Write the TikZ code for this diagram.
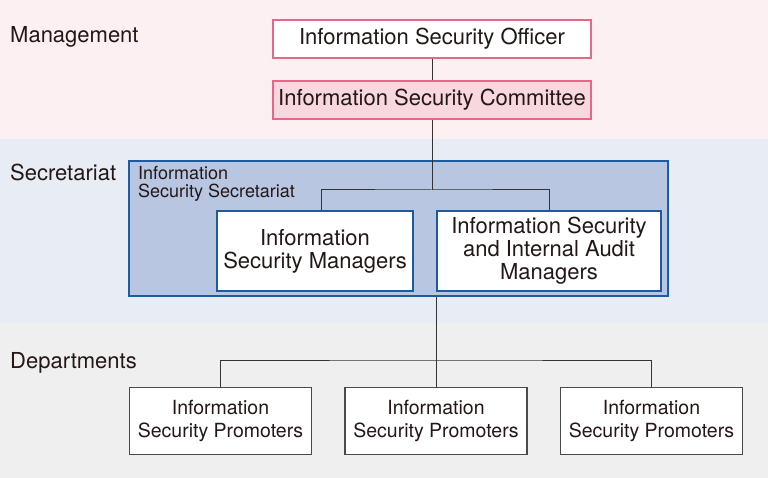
\documentclass[tikz,border=0pt]{standalone}
\usepackage{fontspec}
\setmainfont{TeX Gyre Heros}
\usepackage{xcolor}
\usepackage{tikz}
\usetikzlibrary{positioning}
\definecolor{mgmtband}{HTML}{FCF0F2}
\definecolor{secband}{HTML}{E8ECF5}
\definecolor{deptband}{HTML}{EFEFEF}
\definecolor{pinkline}{HTML}{E8668A}
\definecolor{committee}{HTML}{F8D7DF}
\definecolor{blueline}{HTML}{1E5AA0}
\definecolor{secfill}{HTML}{B9C6E1}
\definecolor{grayline}{HTML}{4A4A4A}
\definecolor{linkc}{HTML}{333333}
\definecolor{txt}{HTML}{231815}

\begin{document}
\begin{tikzpicture}[x=1pt,y=-1pt,-,node distance=61pt,
                    pink node/.style={rectangle,draw=pinkline,line width=2pt,fill=white,text=txt,
                      font=\fontsize{22}{23}\selectfont,inner sep=0pt,minimum width=318pt,minimum height=38pt},
                    blue node/.style={rectangle,draw=blueline,line width=2pt,fill=white,text=txt,align=center,
                      font=\fontsize{22}{23}\selectfont,inner sep=0pt,minimum height=80pt},
                    gray node/.style={rectangle,draw=grayline,line width=1.6pt,fill=white,text=txt,align=center,
                      font=\fontsize{19.5}{23}\selectfont,inner sep=0pt,minimum width=182pt,minimum height=67pt},
                    band label/.style={anchor=west,text=txt,font=\fontsize{22}{23}\selectfont,inner sep=0pt},
                    link/.style={draw=linkc,line width=1pt}]

  \useasboundingbox (0,0) rectangle (768,478);
  \fill[mgmtband] (0,0) rectangle (768,139);
  \fill[secband] (0,139) rectangle (768,323);
  \fill[deptband] (0,323) rectangle (768,478);

  \node[band label] (m) at (10,37) {Management};
  \node[band label] (s) at (10,172) {Secretariat};
  \node[band label] (d) at (10,363) {Departments};

  \node[pink node] (1) at (432,39) {Information Security Officer};
  \node[pink node,fill=committee] (2) [below of=1] {Information Security Committee};

  \node[rectangle,draw=blueline,line width=2pt,fill=secfill,minimum width=539pt,minimum height=135pt] (3) at (398.5,228.5) {};
  \node[anchor=north west,align=left,inner sep=0pt,text=txt,font=\fontsize{18}{18}\selectfont] (4) at (138,166) {Information\\Security Secretariat};
  \node[blue node,minimum width=196pt] (5) at (315,251) {Information\\Security Managers};
  \node[blue node,minimum width=224pt] (6) at (549,251) {Information Security\\and Internal Audit\\Managers};

  \node[gray node] (7) at (220.5,421) {Information\\Security Promoters};
  \node[gray node] (8) [right of=7,node distance=215.5pt] {Information\\Security Promoters};
  \node[gray node] (9) [right of=8,node distance=215.5pt] {Information\\Security Promoters};

  \coordinate (j1) at (432,190);
  \coordinate (j2) at (436,360);

  \path[link] (1) edge (2);
  \draw[link] (2) -- (j1);
  \draw[link] ([xshift=6pt]5.north) |- (j1) -| (6.north);
  \draw[link] (3.south -| 8.north) -- (8.north);
  \draw[link] (7.north) |- (j2) -| (9.north);

\end{tikzpicture}
\end{document}
